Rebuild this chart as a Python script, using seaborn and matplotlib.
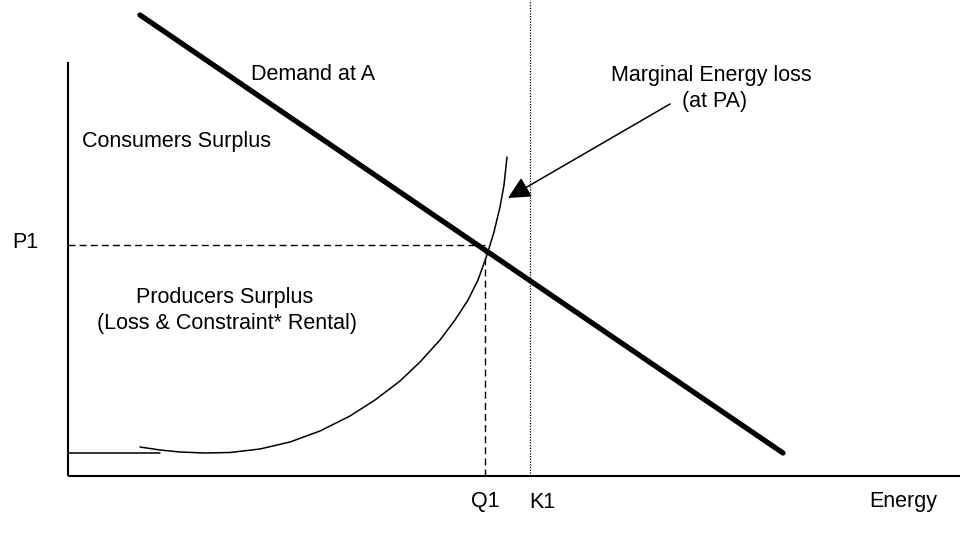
# %% Requirements and constants
import numpy as np
import pandas as pd
import seaborn as sns
import matplotlib.pyplot as plt

# quantity runs right from the price axis, price runs up from the energy axis
demand_q = [72, 715]
demand_p = [461, 23]

supply_q = [72, 92, 112, 137, 162, 192, 222, 252, 282, 307, 332,
            352, 372, 387, 400, 410, 419, 426, 432, 436, 439]
supply_p = [29, 26, 24, 23, 23.5, 27, 34, 45, 60, 76, 95,
            114, 136, 156, 176, 196, 221, 244, 269, 291, 319]

floor_q = [0, 92]
floor_p = [23, 23]

p1 = 231
q1 = 417
k1 = 462
axis_q_max = 892
axis_p_max = 414
k1_top = 476

arrow_from = (602, 372)
arrow_to = (440, 278)

# %% Plot
sns.set_theme(style='white')
plt.rcParams['font.family'] = ['Liberation Sans', 'DejaVu Sans']

fig = plt.figure(figsize=(9.6, 5.43), dpi=100)
ax = fig.add_axes([0, 0, 1, 1])
ax.set_xlim(-68, 892)
ax.set_ylim(-67, 476)
ax.axis('off')

# axes of the diagram
ax.plot([0, 0], [0, axis_p_max], color='black', lw=1.5, solid_capstyle='butt')
ax.plot([0, axis_q_max], [0, 0], color='black', lw=1.5, solid_capstyle='butt')

df_demand = pd.DataFrame(dict(q=demand_q, p=demand_p))
df_supply = pd.DataFrame(dict(q=supply_q, p=supply_p))
sns.lineplot(df_demand, x='q', y='p', ax=ax, color='black', lw=3.8, sort=False)
sns.lineplot(df_supply, x='q', y='p', ax=ax, color='black', lw=1.1, sort=False)
ax.plot(floor_q, floor_p, color='black', lw=1.1)

ax.hlines(p1, 0, q1, color='black', lw=1.0, linestyles=(0, (5, 3)))
ax.vlines(q1, 0, p1, color='black', lw=1.0, linestyles=(0, (5, 3)))
ax.vlines(k1, 0, k1_top, color='black', lw=0.9, linestyles=(0, (1, 1.2)))

ax.annotate('', xy=arrow_to, xytext=arrow_from,
            arrowprops=dict(arrowstyle='-|>', color='black', lw=1.1,
                            mutation_scale=34, shrinkA=0, shrinkB=0))

fs = 15.5
kw = dict(fontsize=fs, color='black', va='center')
ax.text(245, 401, 'Demand at A', ha='center', **kw)
ax.text(643, 401, 'Marginal Energy loss', ha='center', **kw)
ax.text(647, 374, '(at PA)', ha='center', **kw)
ax.text(14, 335, 'Consumers Surplus', ha='left', **kw)
ax.text(-43, 233, 'P1', ha='center', **kw)
ax.text(157, 178, 'Producers Surplus', ha='center', **kw)
ax.text(159, 153, '(Loss & Constraint* Rental)', ha='center', **kw)
ax.text(417, -26, 'Q1', ha='center', **kw)
ax.text(474, -26, 'K1', ha='center', **kw)
ax.text(835, -26, 'Energy', ha='center', **kw)

fig.savefig('out.png', dpi=100)
